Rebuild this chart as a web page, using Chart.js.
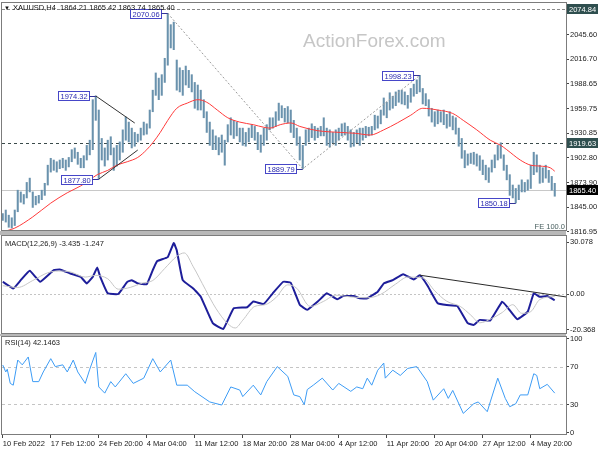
<!DOCTYPE html>
<html><head><meta charset="utf-8">
<script src="https://cdn.jsdelivr.net/npm/chart.js@4.4.0/dist/chart.umd.min.js"></script>
<style>
html,body{margin:0;padding:0;background:#fff;}
#wrap{position:relative;width:600px;height:450px;overflow:hidden;background:#fff;}
canvas{position:absolute;left:0;top:0;}
</style></head><body>
<div id="wrap">
<canvas id="cMain" width="600" height="450"></canvas>
<canvas id="cMacd" width="600" height="450"></canvas>
<canvas id="cRsi" width="600" height="450"></canvas>
</div>
<script>
// ---------------- DATA ----------------
const xTickIdx = [0,32,64,96,128,160,192,224,256,288,320,352];
const xLabels = ['10 Feb 2022','17 Feb 12:00','24 Feb 20:00','4 Mar 04:00','11 Mar 12:00','18 Mar 20:00','28 Mar 04:00','4 Apr 12:00','11 Apr 20:00','20 Apr 04:00','27 Apr 12:00','4 May 20:00'];
const BAR_STEP = 2; // one sample per two H4 bars
const barHigh = [
1838,1842,1836,1833,1842,1865,1863,1860,1874,1879,
1863,1858,1859,1865,1873,1894,1902,1900,1898,1900,
1902,1900,1903,1912,1914,1909,1902,1905,1917,1923,
1970,1974.32,1958,1925,1914,1923,1927,1914,1917,1921,
1935,1950,1944,1937,1932,1930,1937,1944,1942,1958,
1981,2001,1995,1999,2018,2070.06,2057,2060,2016,2007,
2004,2009,2004,1999,1990,1987,1981,1970,1956,1944,
1935,1928,1926,1929,1923,1941,1949,1946,1944,1937,
1937,1932,1937,1941,1939,1932,1929,1937,1941,1949,
1949,1956,1966,1963,1960,1962,1958,1946,1937,1927,
1917,1935,1937,1942,1939,1937,1939,1949,1937,1935,
1932,1935,1937,1942,1943,1939,1935,1932,1935,1937,
1937,1939,1938,1939,1952,1951,1958,1972,1967,1978,
1974,1979,1981,1981,1979,1975,1983,1988,1993,1998.23,
1983,1977,1970,1960,1956,1958,1956,1958,1953,1956,
1951,1949,1937,1925,1911,1907,1908,1909,1907,1905,
1900,1894,1891,1900,1906,1917,1920,1906,1894,1883,
1871,1867,1871,1877,1874,1877,1894,1909,1906,1894,
1891,1894,1888,1881,1873];
const barLow = [
1830,1828,1822,1821,1824,1840,1851,1849,1856,1863,
1845,1848,1850,1854,1859,1871,1886,1888,1886,1890,
1891,1888,1892,1898,1902,1895,1891,1891,1900,1906,
1912,1946,1877.80,1900,1893,1900,1906,1888,1893,1900,
1909,1923,1921,1914,1916,1921,1923,1929,1930,1937,
1956,1975,1970,1975,1990,2010,2030,2028,1981,1979,
1975,1987,1984,1979,1960,1958,1958,1949,1932,1917,
1912,1912,1906,1909,1894,1921,1929,1925,1928,1921,
1917,1916,1921,1926,1923,1912,1909,1917,1923,1935,
1937,1939,1946,1949,1944,1943,1932,1926,1917,1900,
1889.79,1917,1921,1926,1923,1926,1928,1928,1917,1915,
1920,1917,1923,1928,1929,1923,1915,1916,1920,1917,
1923,1926,1928,1929,1935,1937,1942,1952,1949,1958,
1960,1963,1967,1965,1964,1960,1967,1974,1977,1979,
1965,1963,1951,1944,1939,1942,1944,1941,1937,1939,
1935,1930,1916,1902,1891,1894,1896,1895,1893,1888,
1883,1877,1874,1886,1891,1900,1902,1888,1877,1859,
1856,1850.18,1854,1863,1863,1865,1867,1883,1886,1873,
1874,1879,1874,1865,1858];
const maIdx = [0,8,20,32,43,52,58,63,70,76,83,90,96,100,105,110,116,123,130,136,143,150,158,167,174,178,185,192,198,210,225,235,245,254,263,272,280,290,300,307,316,325,332,336,345,352,358,365,368];
const maVal = [1816.8,1821,1834,1850,1862,1870,1877,1883,1888,1894,1898,1903,1912,1920,1932,1946,1960,1966,1970,1967,1958,1949,1944,1941,1938,1937,1941,1943,1939,1934,1932,1931,1929,1935,1943,1952,1960,1958,1954,1946,1935,1923,1917,1912,1900,1894,1893,1891,1887];
const mainTicks = [1816.95,1845.00,1873.90,1902.80,1930.85,1959.75,1988.65,2016.70,2045.60];
const mainRange = [1818.82, 2082.14];
const levelVals = [2074.84, 1919.63, 1865.40];
const feLevel = 1817.96, feStartIdx = 110;
const pivotIdx = [110, 62, 64, 200, 278, 342];
const pivotVal = [2070.06, 1974.32, 1877.80, 1889.79, 1998.23, 1850.18];
const trendA = [[62,1974.32],[88,1942.9]];
const trendB = [[64,1877.80],[90,1911.6]];
const fiboIdx = [110, 200, 278];
const fiboVal = [2070.06, 1889.79, 1998.23];
const headerText = 'XAUUSD,H4  1864.21 1865.42 1863.74 1865.40';

const macdIdx = [0,7,12,18,25,34,38,45,52,56,60,63,65,70,77,83,86,90,96,100,103,110,114,116,120,127,132,140,147,154,163,167,174,180,187,192,198,203,210,216,223,227,234,238,243,250,254,260,267,274,278,283,290,296,303,310,314,318,325,333,337,343,350,354,358,363,368];
const macdVal = [7.3,3.4,8.2,13.6,7.3,14.0,14.4,12.1,10.1,6.3,10.1,15.5,10.1,0.6,0.2,7.2,8.2,6.3,5.9,14.0,19.3,21.6,29.7,25.5,8.2,3.4,-1.4,-16.7,-20.1,-8.1,-7.5,-4.2,-5.6,0.6,7.3,6.7,-6,-9,-4.2,0.6,-2.9,-1.0,-1.0,-2.3,-2.3,1.5,6.3,8.2,11.7,8.6,11.1,5.3,-5.2,-6.2,-6.7,-16.7,-17.7,-14.8,-15.2,-4.2,-8.1,-14.4,-10,0.6,-1.4,-1.0,-3.4];
const sigIdx = [0,10,20,30,37,45,55,62,70,77,85,93,100,108,116,121,127,135,142,150,155,160,168,175,182,190,196,205,214,222,232,243,252,262,270,280,288,296,305,312,318,326,333,340,346,352,358,368];
const sigVal = [5,4,8,12.5,13.5,13,10,11,9,3,4,6.5,8,15,22,24,16,3,-8,-17,-19.5,-15,-7,-6,-2,5.5,3.5,-7,-4,-0.5,-1.5,-2,0,6,10,9.5,2,-4,-7,-12,-16.5,-14,-10.5,-6,-11,-10,-3,-1.2];
const macdTicks = [-20.368, 0, 30.078];
const macdTickText = ['-20.368','0.00','30.078'];
const macdRange = [-22.4, 33.8];
const macdTrend = [[278, 11.1],[375.5, -1.5]];
const macdText = 'MACD(12,26,9) -3.435 -1.247';

const rsiIdx = [0,2,3,5,7,10,13,17,20,24,27,32,35,40,43,47,50,55,58,62,64,68,72,75,82,87,94,100,105,112,116,123,128,138,146,152,158,160,167,172,176,183,190,194,198,201,203,207,213,220,224,232,236,240,243,246,250,254,255,260,265,270,276,283,287,294,297,300,307,314,317,323,325,330,335,338,342,345,350,354,356,358,363,368];
const rsiVal = [72.1,64.7,67.6,52.5,50.6,77.4,72.3,80.7,54.4,54.4,64.7,78.9,70.4,72.3,64.7,77.4,64.7,52.5,67.6,85.5,48.7,42.1,54.4,48.7,62.8,52.5,58.1,78.9,64.7,77.4,50.6,50.6,43.6,32.7,29.4,48.7,45.4,38.4,50.6,40.2,54.4,70.4,60,40.2,38.4,29.9,45.9,50.6,58.1,45.4,52.5,44,48.7,46.8,58.1,50.6,66.6,74.2,58.1,66.6,61,68.5,70.4,54.4,34.6,46.8,36.5,45,20.5,30.8,32.7,22.3,32.7,58.1,36.5,27.6,30.8,40.2,40.2,62.8,61,46.8,51.5,42.1];
const rsiTicks = [0,30,70,100];
const rsiLevels = [30,70];
const rsiRange = [-1.5, 102];
const rsiText = 'RSI(14) 42.1463';

// ---------------- HELPERS ----------------
const FONT = '"Liberation Sans", Arial, sans-serif';
const FS = 7.5;
const X_MIN = -0.5, X_MAX = 375.5;
Chart.defaults.font.family = FONT;
Chart.defaults.font.size = FS;
const px = (c,i)=>c.scales.x.getPixelForValue(i);
const py = (c,v)=>c.scales.y.getPixelForValue(v);
function clip(ctx,a){ctx.beginPath();ctx.rect(a.left,a.top,a.right-a.left,a.bottom-a.top);ctx.clip();}
function hline(ctx,a,y,color,dash){const yy=Math.round(y)+0.5;ctx.strokeStyle=color;ctx.lineWidth=1;ctx.setLineDash(dash);ctx.beginPath();ctx.moveTo(a.left,yy);ctx.lineTo(a.right,yy);ctx.stroke();ctx.setLineDash([]);}
function frame(ctx,a){ctx.save();ctx.strokeStyle='#7c7c7c';ctx.lineWidth=1;ctx.strokeRect(a.left-0.5,a.top-0.5,a.right-a.left+1,a.bottom-a.top+1);ctx.restore();}
const pts = (idx,val)=>idx.map((x,k)=>({x:x,y:val[k]}));
function yAxis(range,ticks,cb){
  return {type:'linear',position:'right',min:range[0],max:range[1],
    afterBuildTicks(s){s.ticks=ticks.map(v=>({value:v}));},
    afterFit(s){s.width=34;s.paddingTop=0;s.paddingBottom=0;},
    ticks:{autoSkip:false,padding:1,color:'#1a1a1a',font:{size:FS,family:FONT},callback:cb},
    grid:{drawOnChartArea:false,drawTicks:true,tickLength:3,color:'#444'},
    border:{display:true,color:'#666'}};
}
function xHidden(){return {type:'linear',min:X_MIN,max:X_MAX,display:false,offset:false};}
const baseOpts = {responsive:false,animation:false,devicePixelRatio:1,
  plugins:{legend:{display:false},tooltip:{enabled:false}}};

// ---------------- MAIN PANEL ----------------
const mainDecor = {
  id:'mainDecor',
  beforeDatasetsDraw(c){
    const ctx=c.ctx,a=c.chartArea;
    ctx.save();
    ctx.font='19px '+FONT;ctx.fillStyle='#c6c6c6';ctx.textBaseline='alphabetic';
    ctx.fillText('ActionForex.com',303,47);
    clip(ctx,a);
    hline(ctx,a,py(c,levelVals[0]),'#8a8a8a',[3,2]);
    hline(ctx,a,py(c,levelVals[1]),'#3a4a4a',[3,3]);
    hline(ctx,a,py(c,levelVals[2]),'#c8c8c8',[]);
    ctx.restore();
  },
  afterDatasetsDraw(c){
    const ctx=c.ctx,a=c.chartArea;
    ctx.save();clip(ctx,a);
    ctx.lineWidth=1;ctx.strokeStyle='#333';
    [trendA,trendB].forEach(t=>{ctx.beginPath();ctx.moveTo(px(c,t[0][0]),py(c,t[0][1]));ctx.lineTo(px(c,t[1][0]),py(c,t[1][1]));ctx.stroke();});
    ctx.strokeStyle='#9a9a9a';ctx.setLineDash([2,2]);ctx.beginPath();
    fiboIdx.forEach((i,k)=>{const x=px(c,i),y=py(c,fiboVal[k]);k?ctx.lineTo(x,y):ctx.moveTo(x,y);});
    ctx.stroke();ctx.setLineDash([]);
    ctx.restore();
    ctx.save();
    const fy=Math.round(py(c,feLevel))-0.5;
    ctx.strokeStyle='#4a6a6a';ctx.lineWidth=1;ctx.beginPath();ctx.moveTo(px(c,feStartIdx),fy);ctx.lineTo(a.right,fy);ctx.stroke();
    ctx.font=FS+'px '+FONT;ctx.fillStyle='#4a6060';ctx.textAlign='right';ctx.textBaseline='alphabetic';
    ctx.fillText('FE 100.0',a.right-1,fy-2);
    ctx.textAlign='left';
    pivotIdx.forEach((i,k)=>{
      const x=px(c,i),y=py(c,pivotVal[k]);const t=pivotVal[k].toFixed(2);
      const w=Math.round(ctx.measureText(t).width)+4,h=9;
      const bx=Math.round(x-7-w)+0.5,by=Math.round(y-h/2)+0.5;
      ctx.fillStyle='#fff';ctx.fillRect(bx,by,w,h);
      ctx.strokeStyle='#4646c8';ctx.strokeRect(bx,by,w,h);
      ctx.strokeStyle='#333399';ctx.beginPath();ctx.moveTo(bx+w,Math.round(y)+0.5);ctx.lineTo(x,Math.round(y)+0.5);ctx.stroke();
      ctx.fillStyle='#2b2bb0';ctx.textBaseline='middle';ctx.fillText(t,bx+2,by+h/2+0.5);
    });
    ctx.fillStyle='#111';ctx.textBaseline='alphabetic';
    ctx.font='6px '+FONT;ctx.fillText('\u25BC',4,10);
    ctx.font=FS+'px '+FONT;ctx.fillText(headerText,13,10);
    ctx.restore();
  },
  afterDraw(c){
    const ctx=c.ctx,a=c.chartArea;
    frame(ctx,a);
    ctx.save();
    ctx.fillStyle='#b8b8b8';ctx.fillRect(0,a.bottom+1,a.right,4);
    const bg=['#2f4f4f','#2f4f4f','#000'];
    ctx.font=FS+'px '+FONT;ctx.textBaseline='middle';ctx.textAlign='left';
    levelVals.forEach((v,k)=>{const y=Math.round(py(c,v));ctx.fillStyle=bg[k];ctx.fillRect(a.right+1,y-5,31,10);ctx.fillStyle='#fff';ctx.fillText(v.toFixed(2),a.right+3,y+0.5);});
    ctx.restore();
  }
};
new Chart(document.getElementById('cMain'),{
  type:'bar',
  data:{datasets:[
    {type:'bar',data:barHigh.map((h,j)=>({x:j*BAR_STEP,y:[barLow[j],h]})),backgroundColor:'#6a92ad',borderWidth:0,barThickness:1.4,grouped:false,order:2},
    {type:'line',data:pts(maIdx,maVal),borderColor:'#ff3a3a',borderWidth:1,pointRadius:0,cubicInterpolationMode:'monotone',order:1}
  ]},
  options:Object.assign({},baseOpts,{
    layout:{padding:{left:2,right:0,top:3,bottom:220}},
    scales:{x:xHidden(),y:yAxis(mainRange,mainTicks,v=>Number(v).toFixed(2))}
  }),
  plugins:[mainDecor]
});

// ---------------- MACD PANEL ----------------
const macdDecor = {
  id:'macdDecor',
  beforeDatasetsDraw(c){
    const ctx=c.ctx,a=c.chartArea;ctx.save();clip(ctx,a);
    hline(ctx,a,py(c,0),'#c4c4c4',[2,2]);ctx.restore();
  },
  afterDatasetsDraw(c){
    const ctx=c.ctx,a=c.chartArea;ctx.save();clip(ctx,a);
    ctx.strokeStyle='#2a2a2a';ctx.lineWidth=1;ctx.beginPath();
    ctx.moveTo(px(c,macdTrend[0][0]),py(c,macdTrend[0][1]));ctx.lineTo(px(c,macdTrend[1][0]),py(c,macdTrend[1][1]));ctx.stroke();
    ctx.restore();
    ctx.save();ctx.font=FS+'px '+FONT;ctx.fillStyle='#222';ctx.fillText(macdText,5,246);ctx.restore();
  },
  afterDraw(c){
    const ctx=c.ctx,a=c.chartArea;frame(ctx,a);
    ctx.save();ctx.fillStyle='#b8b8b8';ctx.fillRect(0,a.bottom+1,a.right,2);ctx.restore();
  }
};
new Chart(document.getElementById('cMacd'),{
  type:'line',
  data:{datasets:[
    {data:pts(sigIdx,sigVal),borderColor:'#c6c6c6',borderWidth:1,pointRadius:0,cubicInterpolationMode:'monotone'},
    {data:pts(macdIdx,macdVal),borderColor:'#1e1e9a',borderWidth:2,pointRadius:0,tension:0.1}
  ]},
  options:Object.assign({},baseOpts,{
    layout:{padding:{left:2,right:0,top:236,bottom:117}},
    scales:{x:xHidden(),y:yAxis(macdRange,macdTicks,(v,k)=>macdTickText[k])}
  }),
  plugins:[macdDecor]
});

// ---------------- RSI PANEL ----------------
const rsiDecor = {
  id:'rsiDecor',
  beforeDatasetsDraw(c){
    const ctx=c.ctx,a=c.chartArea;ctx.save();clip(ctx,a);
    rsiLevels.forEach(v=>hline(ctx,a,py(c,v),'#c4c4c4',[3,3]));ctx.restore();
  },
  afterDatasetsDraw(c){
    const ctx=c.ctx;ctx.save();ctx.font=FS+'px '+FONT;ctx.fillStyle='#222';ctx.fillText(rsiText,5,345);ctx.restore();
  },
  afterDraw(c){frame(c.ctx,c.chartArea);}
};
new Chart(document.getElementById('cRsi'),{
  type:'line',
  data:{datasets:[
    {data:pts(rsiIdx,rsiVal),borderColor:'#3d9cf5',borderWidth:1,pointRadius:0,tension:0}
  ]},
  options:Object.assign({},baseOpts,{
    layout:{padding:{left:2,right:0,top:337,bottom:0}},
    scales:{
      x:{type:'linear',min:X_MIN,max:X_MAX,offset:false,position:'bottom',
        afterBuildTicks(s){s.ticks=xTickIdx.map(v=>({value:v}));},
        afterFit(s){s.height=16;s.paddingLeft=0;s.paddingRight=0;},
        ticks:{autoSkip:false,maxRotation:0,minRotation:0,align:'start',padding:1,color:'#1a1a1a',font:{size:FS,family:FONT},callback:(v,k)=>xLabels[k]},
        grid:{drawOnChartArea:false,drawTicks:true,tickLength:4,color:'#444'},
        border:{display:true,color:'#666'}},
      y:yAxis(rsiRange,rsiTicks,v=>String(v))
    }
  }),
  plugins:[rsiDecor]
});
</script>
</body></html>
